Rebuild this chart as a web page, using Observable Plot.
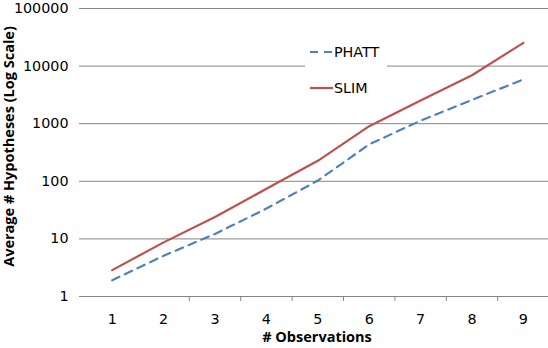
<!DOCTYPE html>
<html>
<head>
<meta charset="utf-8">
<script src="https://cdn.jsdelivr.net/npm/d3@7"></script>
<script src="https://cdn.jsdelivr.net/npm/@observablehq/plot@0.6"></script>
<style>
  html, body { margin: 0; padding: 0; background: #fff; }
  #chart { position: relative; width: 548px; height: 348px; }
</style>
</head>
<body>
<div id="chart"></div>
<script>
// ---- data ----
const observations = [1, 2, 3, 4, 5, 6, 7, 8, 9];
const slim  = [2.87, 8.7, 24, 74, 227, 906, 2530, 6950, 25300];
const phatt = [1.91, 5.1, 12.2, 33.6, 103, 437, 1130, 2590, 5870];
const yTicks = [1, 10, 100, 1000, 10000, 100000];
const xBoundaries = [2.5, 3.5, 4.5, 5.5, 6.5, 7.5, 8.5];
const seriesNames = ["PHATT", "SLIM"];
const xTitle = "# Observations";
const yTitle = "Average # Hypotheses (Log Scale)";

const colors = { PHATT: "#4F81BD", SLIM: "#C0504D" };
const rows = [];
observations.forEach((o, i) => {
  rows.push({ obs: o, value: phatt[i], series: "PHATT" });
  rows.push({ obs: o, value: slim[i], series: "SLIM" });
});

const gridColor = "#868686";
const tickFont = "DejaVu Sans, Verdana, sans-serif";
const titleFont = "'Open Sans', Calibri, sans-serif";

const plot = Plot.plot({
  width: 548,
  height: 348,
  marginLeft: 79,
  marginRight: 0,
  marginTop: 8,
  marginBottom: 52,
  style: { background: "#fff", overflow: "visible" },
  x: { type: "linear", domain: [0.5, 9.5], range: [86, 548.6] },
  y: { type: "log", domain: [1, 100000] },
  marks: [
    Plot.ruleY(yTicks, { stroke: gridColor, strokeWidth: 1 }),
    Plot.axisY({
      ticks: yTicks, tickFormat: d => String(d), tickSize: 0, tickPadding: 11,
      fontSize: 14.3, fontFamily: tickFont, fill: "#000", label: null
    }),
    Plot.axisX({
      ticks: xBoundaries, tickFormat: () => "", tickSize: 5, stroke: gridColor, label: null
    }),
    Plot.axisX({
      ticks: observations, tickFormat: d => String(d), tickSize: 0, tickPadding: 17,
      fontSize: 14.3, fontFamily: tickFont, fill: "#000", label: null
    }),
    Plot.line(rows.filter(d => d.series === "PHATT"), {
      x: "obs", y: "value", stroke: colors.PHATT, strokeWidth: 2.2,
      strokeDasharray: "8,6"
    }),
    Plot.line(rows.filter(d => d.series === "SLIM"), {
      x: "obs", y: "value", stroke: colors.SLIM, strokeWidth: 2.2
    }),
    Plot.text([yTitle], {
      frameAnchor: "left", textAnchor: "middle", rotate: -90, dx: -70, dy: -6,
      fontSize: 14.5, fontWeight: "bold", fontFamily: titleFont, fill: "#000"
    }),
    Plot.text([xTitle], {
      frameAnchor: "bottom", dx: 3, dy: 45,
      fontSize: 14.5, fontWeight: "bold", fontFamily: titleFont, fill: "#000"
    })
  ]
});

const chart = document.getElementById("chart");
chart.appendChild(plot);

// ---- legend overlay (white box covering gridline, inside plot area) ----
const svg = d3.select(plot);
const lg = svg.append("g").attr("class", "legend");
lg.append("rect")
  .attr("x", 305).attr("y", 36).attr("width", 82).attr("height", 68)
  .attr("fill", "#fff");
const entries = [
  { name: seriesNames[0], y: 52, dash: "8,6" },
  { name: seriesNames[1], y: 88, dash: null }
];
entries.forEach(e => {
  lg.append("line")
    .attr("x1", 310).attr("x2", 333).attr("y1", e.y).attr("y2", e.y)
    .attr("stroke", colors[e.name]).attr("stroke-width", 2.2)
    .attr("stroke-dasharray", e.dash);
  lg.append("text")
    .attr("x", 334).attr("y", e.y).attr("dy", "0.36em")
    .attr("text-anchor", "start")
    .attr("font-family", tickFont).attr("font-size", 14.3)
    .attr("fill", "#000")
    .text(e.name);
});
</script>
</body>
</html>
